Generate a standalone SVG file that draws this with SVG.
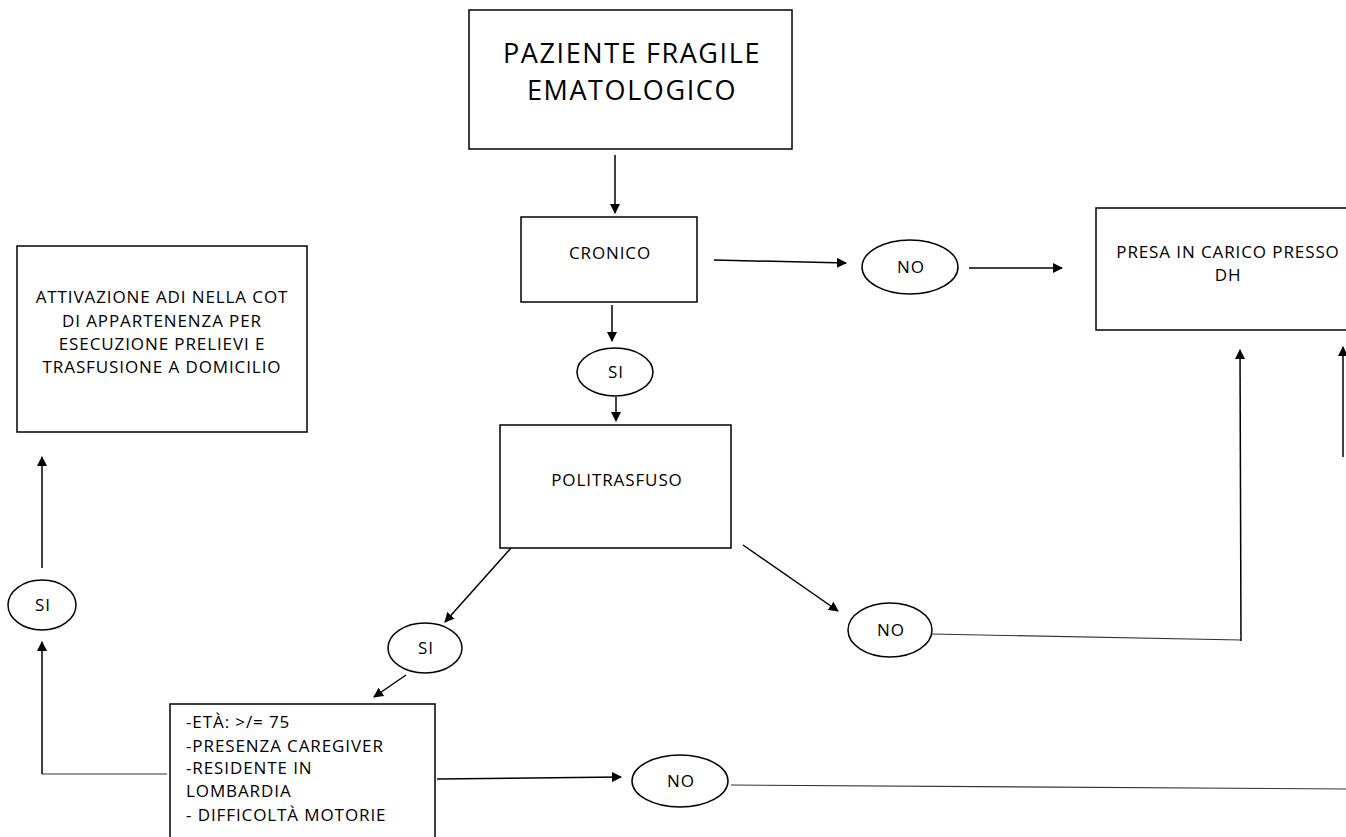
<svg xmlns="http://www.w3.org/2000/svg" width="1346" height="837" viewBox="0 0 1346 837">
<style>
.box{fill:#fff;stroke:#000;stroke-width:1.5}
.ell{fill:#fff;stroke:#000;stroke-width:1.5}
.t{font-family:"Open Sans","Liberation Sans",sans-serif;font-size:17px;letter-spacing:0.9px;fill:#000}
.c{text-anchor:middle}
.big{font-size:27px;letter-spacing:1.6px}
.ln{fill:none;stroke:#000;stroke-width:1.5}
.thin{fill:none;stroke:#333;stroke-width:1.1}
</style>
<defs>
<marker id="ah" viewBox="0 0 10 10" refX="9" refY="5" markerWidth="10" markerHeight="10" markerUnits="userSpaceOnUse" orient="auto">
<path d="M0,0 L10,5 L0,10 z" fill="#000"/>
</marker>
</defs>
<rect width="1346" height="837" fill="#fff"/>
<g id="connectors">
<line class="ln" x1="615" y1="155" x2="615" y2="213" marker-end="url(#ah)"/>
<line class="ln" x1="714" y1="260" x2="846" y2="263" marker-end="url(#ah)"/>
<line class="ln" x1="969" y1="268" x2="1062" y2="268" marker-end="url(#ah)"/>
<line class="ln" x1="612" y1="305" x2="612" y2="341" marker-end="url(#ah)"/>
<line class="ln" x1="616" y1="397" x2="616" y2="421" marker-end="url(#ah)"/>
<line class="ln" x1="512" y1="547" x2="445" y2="622" marker-end="url(#ah)"/>
<line class="ln" x1="743" y1="545" x2="838" y2="611" marker-end="url(#ah)"/>
<line class="ln" x1="406" y1="675" x2="374" y2="697" marker-end="url(#ah)"/>
<polyline class="thin" points="931,634 1241,640"/>
<line class="ln" x1="1241" y1="641" x2="1240" y2="350" marker-end="url(#ah)"/>
<line class="ln" x1="1343" y1="457" x2="1343" y2="347" marker-end="url(#ah)"/>
<line class="ln" x1="437" y1="779" x2="621" y2="777" marker-end="url(#ah)"/>
<line class="thin" x1="731" y1="785" x2="1346" y2="789"/>
<line class="thin" x1="167" y1="774" x2="42" y2="774"/>
<line class="ln" x1="42" y1="774" x2="42" y2="642" marker-end="url(#ah)"/>
<line class="ln" x1="42" y1="568" x2="42" y2="457" marker-end="url(#ah)"/>
</g>
<g id="paziente">
<rect class="box" x="469" y="10" width="323" height="139"/>
<text class="t c big" x="632" y="63">PAZIENTE FRAGILE</text>
<text class="t c big" x="632" y="100">EMATOLOGICO</text>
</g>
<g id="cronico">
<rect class="box" x="521" y="217" width="176" height="85"/>
<text class="t c" x="610" y="259">CRONICO</text>
</g>
<g id="no1">
<ellipse class="ell" cx="910" cy="267" rx="48" ry="27"/>
<text class="t c" x="911" y="273">NO</text>
</g>
<g id="presa">
<rect class="box" x="1096" y="208" width="260" height="122"/>
<text class="t c" x="1228" y="258">PRESA IN CARICO PRESSO</text>
<text class="t c" x="1228" y="281">DH</text>
</g>
<g id="si1">
<ellipse class="ell" cx="615" cy="372" rx="38" ry="24"/>
<text class="t c" x="616" y="378">SI</text>
</g>
<g id="politrasfuso">
<rect class="box" x="500" y="425" width="231" height="123"/>
<text class="t c" x="617" y="486">POLITRASFUSO</text>
</g>
<g id="si2">
<ellipse class="ell" cx="425" cy="648" rx="37" ry="25"/>
<text class="t c" x="426" y="654">SI</text>
</g>
<g id="no2">
<ellipse class="ell" cx="890" cy="630" rx="42" ry="27"/>
<text class="t c" x="891" y="636">NO</text>
</g>
<g id="criteri">
<rect class="box" x="170" y="704" width="265" height="140"/>
<text class="t" x="186" y="728">-ETÀ: &gt;/= 75</text>
<text class="t" x="186" y="752">-PRESENZA CAREGIVER</text>
<text class="t" x="186" y="774">-RESIDENTE IN</text>
<text class="t" x="186" y="797">LOMBARDIA</text>
<text class="t" x="186" y="821">- DIFFICOLTÀ MOTORIE</text>
</g>
<g id="no3">
<ellipse class="ell" cx="680" cy="781" rx="48" ry="26"/>
<text class="t c" x="681" y="787">NO</text>
</g>
<g id="si3">
<ellipse class="ell" cx="42" cy="605" rx="34" ry="25"/>
<text class="t c" x="43" y="611">SI</text>
</g>
<g id="attivazione">
<rect class="box" x="17" y="246" width="290" height="186"/>
<text class="t c" x="162" y="303">ATTIVAZIONE ADI NELLA COT</text>
<text class="t c" x="162" y="327">DI APPARTENENZA PER</text>
<text class="t c" x="162" y="350">ESECUZIONE PRELIEVI E</text>
<text class="t c" x="162" y="373">TRASFUSIONE A DOMICILIO</text>
</g>
</svg>
